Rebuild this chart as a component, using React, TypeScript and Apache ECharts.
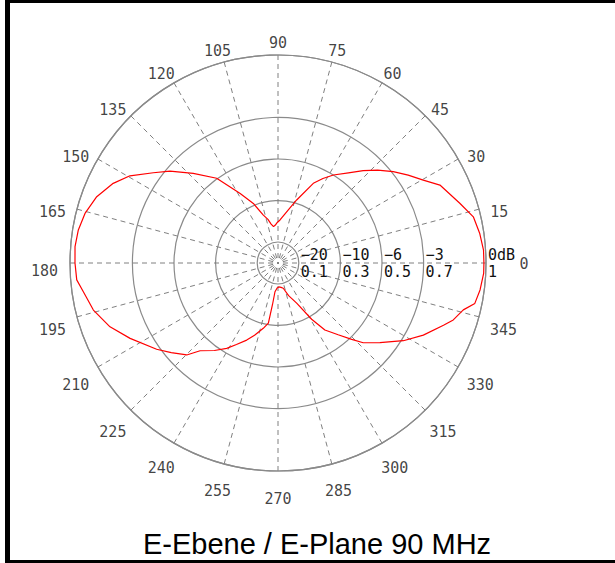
import React, { useEffect, useRef } from 'react';
import * as echarts from 'echarts';

// ---- data ----
const angleTicks = [0, 15, 30, 45, 60, 75, 90, 105, 120, 135, 150, 165, 180, 195, 210, 225, 240, 255, 270, 285, 300, 315, 330, 345];
const angleTickLabels = ['0', '15', '30', '45', '60', '75', '90', '105', '120', '135', '150', '165', '180', '195', '210', '225', '240', '255', '270', '285', '300', '315', '330', '345'];

const ringValues = [0.1, 0.3, 0.5, 0.7, 1];
const dbLabels = ['\u221220', '\u221210', '\u22126', '\u22123', '0dB'];
const linearLabels = ['0.1', '0.3', '0.5', '0.7', '1'];

const patternAngles = [0, 3.6, 8.4, 13.3, 18.2, 25.7, 29.7, 34, 38.4, 43, 47.3, 52, 57.8, 62, 66.1, 73.5, 79, 87.3, 91, 94, 97, 100, 103, 107, 112.5, 118.6, 125.9, 133.4, 139.6, 144.1, 149.5, 154.2, 159.9, 165.6, 170.6, 175.4, 180, 184.8, 188.4, 194.3, 200.8, 207, 215.4, 220, 225.2, 228.4, 234, 239, 243, 247.9, 252, 257.3, 260.9, 261.5, 262.5, 264, 268, 272, 277, 281.8, 288, 294.9, 300.9, 305, 310, 314, 316.9, 322, 328.2, 333.6, 339.4, 342, 345.8, 348.4, 352.4, 357.1, 360];
const patternRadii = [0.99, 0.99, 0.98, 0.965, 0.92, 0.864, 0.804, 0.755, 0.707, 0.655, 0.604, 0.55, 0.5, 0.46, 0.419, 0.316, 0.26, 0.207, 0.195, 0.183, 0.176, 0.19, 0.215, 0.241, 0.31, 0.38, 0.503, 0.593, 0.682, 0.74, 0.826, 0.88, 0.928, 0.958, 0.973, 0.979, 0.976, 0.971, 0.946, 0.916, 0.864, 0.798, 0.716, 0.67, 0.623, 0.564, 0.52, 0.479, 0.44, 0.4, 0.365, 0.322, 0.293, 0.25, 0.2, 0.139, 0.12, 0.115, 0.118, 0.124, 0.165, 0.213, 0.315, 0.393, 0.45, 0.51, 0.561, 0.622, 0.709, 0.78, 0.85, 0.886, 0.919, 0.966, 0.98, 0.99, 0.99];

const chartTitle = 'E-Ebene / E-Plane 90 MHz';

// ---- styles ----
const MONO = '"DejaVu Sans Mono", monospace';
const GRID = '#8a8a8a';
const SPOKE = '#808080';
const R_PX = 208;

const ringColors = Array.from({ length: 11 }, (_, i) =>
  ringValues.some((r) => Math.abs(r - i * 0.1) < 1e-6) ? GRID : 'rgba(0,0,0,0)'
);

const radiusFormatter = (v: number) => {
  const i = ringValues.findIndex((r) => Math.abs(r - v) < 1e-6);
  if (i < 0) return '';
  return `{db|${dbLabels[i]}}\n{lin|${linearLabels[i]}}`;
};

const angleLabelData = angleTicks.map((a, i) => {
  const t = (a * Math.PI) / 180;
  const hw = angleTickLabels[i].length * 4.5;
  const offset = a === 0 ? [38, 1] : [(12 + hw) * Math.cos(t), -20 * Math.sin(t) + 8];
  return {
    value: [1, a],
    label: { formatter: angleTickLabels[i], offset },
  };
});

const option: any = {
  animation: false,
  backgroundColor: '#ffffff',
  polar: { center: [278, 263], radius: R_PX },
  angleAxis: {
    type: 'value',
    min: 0,
    max: 360,
    interval: 15,
    startAngle: 0,
    clockwise: false,
    axisLine: { show: true, lineStyle: { color: GRID, width: 1.2 } },
    axisTick: { show: false },
    axisLabel: { show: false },
    splitLine: { show: true, lineStyle: { color: SPOKE, width: 1, type: [5, 4] } },
  },
  radiusAxis: {
    type: 'value',
    min: 0,
    max: 1,
    interval: 0.1,
    axisLine: { show: false },
    axisTick: { show: false },
    splitLine: { show: true, lineStyle: { color: ringColors, width: 1.2 } },
    axisLabel: {
      show: true,
      margin: 0,
      align: 'left',
      verticalAlign: 'middle',
      showMinLabel: true,
      showMaxLabel: true,
      formatter: radiusFormatter,
      rich: {
        db: { fontFamily: MONO, fontSize: 15, lineHeight: 17, color: '#111', padding: [0, 0, 0, 2] },
        lin: { fontFamily: MONO, fontSize: 15, lineHeight: 17, color: '#111', padding: [0, 0, 0, 2] },
      },
    },
  },
  series: [
    {
      type: 'line',
      coordinateSystem: 'polar',
      data: patternAngles.map((a, i) => [patternRadii[i], a]),
      symbol: 'none',
      smooth: false,
      lineStyle: { color: '#ff0000', width: 1.2 },
      z: 5,
    },
    {
      type: 'scatter',
      coordinateSystem: 'polar',
      data: angleLabelData,
      symbolSize: 1,
      clip: false,
      silent: true,
      itemStyle: { color: 'rgba(0,0,0,0)' },
      label: {
        show: true,
        position: 'inside',
        fontFamily: MONO,
        fontSize: 15,
        color: '#111',
      },
      z: 6,
    },
  ],
  graphic: [
    { type: 'rect', shape: { x: 5, y: 0, width: 5, height: 563 }, style: { fill: '#000' } },
    { type: 'rect', shape: { x: 5, y: 0, width: 610, height: 3 }, style: { fill: '#000' } },
    { type: 'rect', shape: { x: 5, y: 560, width: 610, height: 3 }, style: { fill: '#000' } },
    {
      type: 'text',
      x: 317,
      y: 544,
      style: {
        text: chartTitle,
        fontFamily: '"Liberation Sans", Arial, sans-serif',
        fontSize: 29,
        fill: '#000',
        align: 'center',
        verticalAlign: 'middle',
      },
    },
  ],
};

export default function App() {
  const ref = useRef<HTMLDivElement>(null);
  useEffect(() => {
    const chart = echarts.init(ref.current!, undefined, { renderer: 'svg' });
    chart.setOption(option);
    return () => chart.dispose();
  }, []);
  return (
    <div
      ref={ref}
      style={{ position: 'absolute', left: 0, top: 0, width: 615, height: 563, background: '#fff' }}
    />
  );
}
